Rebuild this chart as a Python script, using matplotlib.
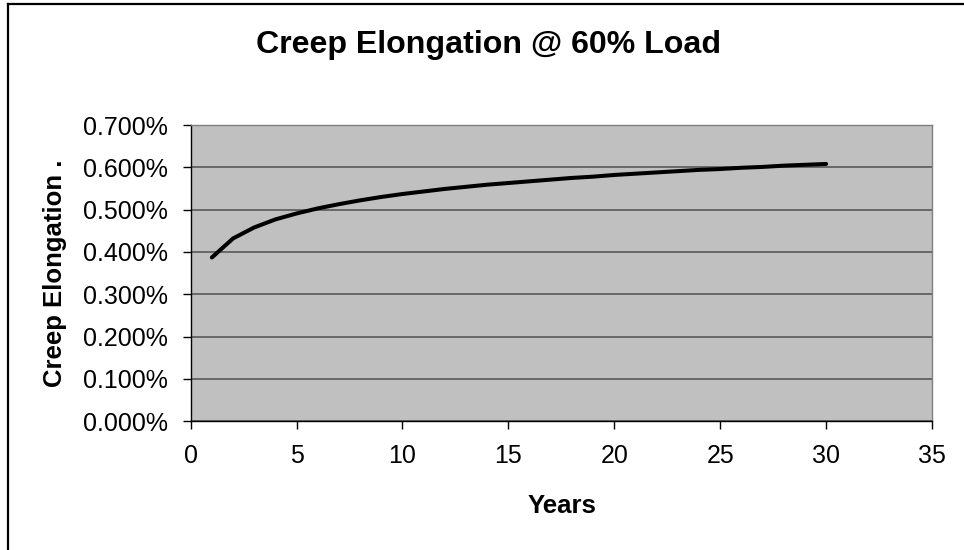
#!/usr/bin/env python3

import matplotlib
matplotlib.use("Agg")
import matplotlib.pyplot as plt
from matplotlib.ticker import PercentFormatter, MultipleLocator
from matplotlib.lines import Line2D

# creep elongation (%), one point per year
years = list(range(1, 31))
elongation = [0.387, 0.432, 0.458, 0.477, 0.491, 0.503, 0.513, 0.522, 0.530, 0.537,
              0.543, 0.549, 0.554, 0.559, 0.563, 0.567, 0.571, 0.575, 0.578, 0.582,
              0.585, 0.588, 0.591, 0.594, 0.596, 0.599, 0.601, 0.604, 0.606, 0.608]

title = "Creep Elongation @ 60% Load"
xlabel = "Years"
ylabel = "Creep Elongation ."

plt.rcParams['font.family'] = ['Liberation Sans', 'DejaVu Sans']


def prepare_ax(ax):
    ax.set_facecolor('#c0c0c0')
    ax.spines['top'].set_color('#808080')
    ax.spines['right'].set_color('#808080')
    ax.spines['top'].set_linewidth(1.0)
    ax.spines['right'].set_linewidth(1.0)
    ax.spines['left'].set_color('black')
    ax.spines['bottom'].set_color('black')
    ax.spines['left'].set_linewidth(1.0)
    ax.spines['bottom'].set_linewidth(1.0)
    ax.tick_params(direction='out', length=5.5, width=1.0, color='black',
                   labelsize=18, pad=11, labelcolor='black')
    ax.yaxis.grid(True, color='#505050', linewidth=1.1)
    ax.set_axisbelow(True)


def main():
    fig = plt.figure(figsize=(9.64, 5.5), dpi=100)
    ax = fig.add_axes([0.1978, 0.234, 0.769, 0.5387])
    prepare_ax(ax)

    ax.plot(years, elongation, color='black', linewidth=2.9,
            solid_capstyle='round', solid_joinstyle='round')

    ax.set_xlim(0, 35)
    ax.set_ylim(0, 0.7)
    ax.xaxis.set_major_locator(MultipleLocator(5))
    ax.yaxis.set_major_locator(MultipleLocator(0.1))
    ax.yaxis.set_major_formatter(PercentFormatter(xmax=100, decimals=3))

    fig.text(0.507, 0.9036, title, ha='center', va='baseline',
             fontsize=23.1, fontweight='bold')
    fig.text(0.583, 0.0673, xlabel, ha='center', va='baseline',
             fontsize=18.5, fontweight='bold')
    fig.text(0.057, 0.5036, ylabel, ha='center', va='center', rotation=90,
             fontsize=18.5, fontweight='bold')

    # chart border (top and left edges are visible in the original)
    fig.add_artist(Line2D([0.0083, 1.0], [0.9927, 0.9927], color='black',
                          linewidth=1.6, transform=fig.transFigure))
    fig.add_artist(Line2D([0.0083, 0.0083], [0.0, 0.9927], color='black',
                          linewidth=1.6, transform=fig.transFigure))

    fig.savefig("out.png", dpi=100, facecolor='white')


if __name__ == "__main__":
    main()
